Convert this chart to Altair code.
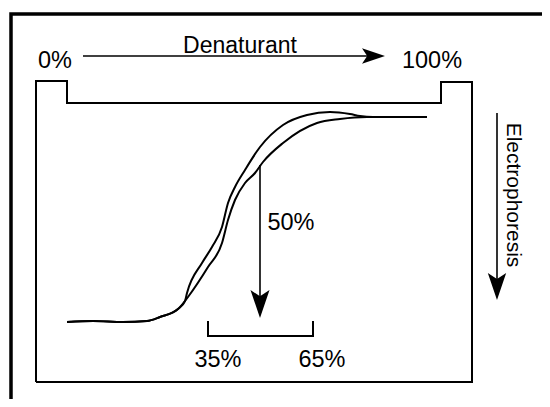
import altair as alt
import pandas as pd

# ---- diagram data (page coordinates, y grows downward) ----
frame_x = [11, 11, 560]
frame_y = [410, 14, 14]

gel_x = [36, 36, 67, 67, 441, 441, 472, 472, 36]
gel_y = [382, 81, 81, 103, 103, 82, 82, 382, 382]

bracket_x = [208, 208, 313, 313]
bracket_y = [321, 336, 336, 321]

base_x = [67, 93, 123, 147, 160, 178, 185]
base_y = [322, 321, 322, 321, 317, 309, 301]

outer_x = [187, 202, 212, 222, 228, 235, 245, 260, 283, 307, 330, 350, 360, 373, 427]
outer_y = [293, 263, 247, 227, 203, 187, 170, 147, 125, 115, 112, 114, 116, 117, 117]

inner_x = [188, 208, 222, 228, 235, 245, 255, 263, 283, 317, 340, 367, 427]
inner_y = [297, 267, 243, 220, 200, 183, 173, 162, 143, 123, 119, 117, 117]

# arrow shafts
shaft_names = ["denaturant", "denaturant", "fifty", "fifty", "electro", "electro"]
shaft_x = [83, 372, 260, 260, 497, 497]
shaft_y = [56, 56, 165, 305, 113, 290]

# arrow heads (centre of head, rotation, area)
head_x = [373.5, 260, 497]
head_y = [56, 304, 286.5]
head_angle = [0, 90, 90]
head_size = [529, 784, 729]

# labels
label_text = ["Denaturant", "0%", "100%", "50%", "35%", "65%", "Electrophoresis"]
label_x = [240, 55, 432, 291, 218, 322, 507]
label_y = [53, 68, 68, 230, 367, 367, 195]
label_size = [23, 23.5, 23.5, 23.5, 23.5, 23.5, 21]
label_angle = [0, 0, 0, 0, 0, 0, 90]


def path_df(name, xs, ys):
    return pd.DataFrame({"path": name, "x": xs, "y": ys, "i": range(len(xs))})


xs = alt.Scale(domain=[8, 542], nice=False, zero=False)
ys = alt.Scale(domain=[8, 399], nice=False, zero=False, reverse=True)

def enc_xy():
    return dict(
        x=alt.X("x:Q", scale=xs, axis=None),
        y=alt.Y("y:Q", scale=ys, axis=None),
    )

frame = alt.Chart(path_df("frame", frame_x, frame_y)).mark_line(
    color="black", strokeWidth=3.5, clip=False
).encode(order="i:Q", **enc_xy())

gel = alt.Chart(path_df("gel", gel_x, gel_y)).mark_line(
    color="black", strokeWidth=2, strokeJoin="miter"
).encode(order="i:Q", **enc_xy())

bracket = alt.Chart(path_df("bracket", bracket_x, bracket_y)).mark_line(
    color="black", strokeWidth=2, strokeJoin="miter"
).encode(order="i:Q", **enc_xy())

curves_df = pd.concat([
    path_df("outer", base_x + outer_x, base_y + outer_y),
    path_df("inner", base_x + inner_x, base_y + inner_y),
])
curves = alt.Chart(curves_df).mark_line(
    color="black", strokeWidth=2, interpolate="monotone"
).encode(detail="path:N", order="i:Q", **enc_xy())

shafts_df = pd.DataFrame({"path": shaft_names, "x": shaft_x, "y": shaft_y,
                          "i": range(len(shaft_x))})
shafts = alt.Chart(shafts_df).mark_line(color="black", strokeWidth=1.6).encode(
    detail="path:N", order="i:Q", **enc_xy()
)

heads_df = pd.DataFrame({"x": head_x, "y": head_y, "angle": head_angle,
                         "size": head_size})
heads = alt.Chart(heads_df).mark_point(
    shape="M1,0L-1,-0.68L-0.55,0L-1,0.68Z", filled=True, color="black",
    opacity=1, strokeWidth=0
).encode(
    size=alt.Size("size:Q", scale=None),
    angle=alt.Angle("angle:Q", scale=None),
    **enc_xy()
)

labels_df = pd.DataFrame({"t": label_text, "x": label_x, "y": label_y,
                          "s": label_size, "a": label_angle})
labels = alt.Chart(labels_df).mark_text(
    font="Liberation Sans", color="black", align="center", baseline="alphabetic"
).encode(
    text="t:N",
    size=alt.Size("s:Q", scale=None),
    angle=alt.Angle("a:Q", scale=None),
    **enc_xy()
)

chart = alt.layer(frame, gel, bracket, curves, shafts, heads, labels).properties(
    width=534, height=391, autosize=alt.AutoSizeParams(type="none"), padding=0
).configure_view(stroke=None)

chart.save("out.html", embed_options={"renderer": "svg", "actions": False})
